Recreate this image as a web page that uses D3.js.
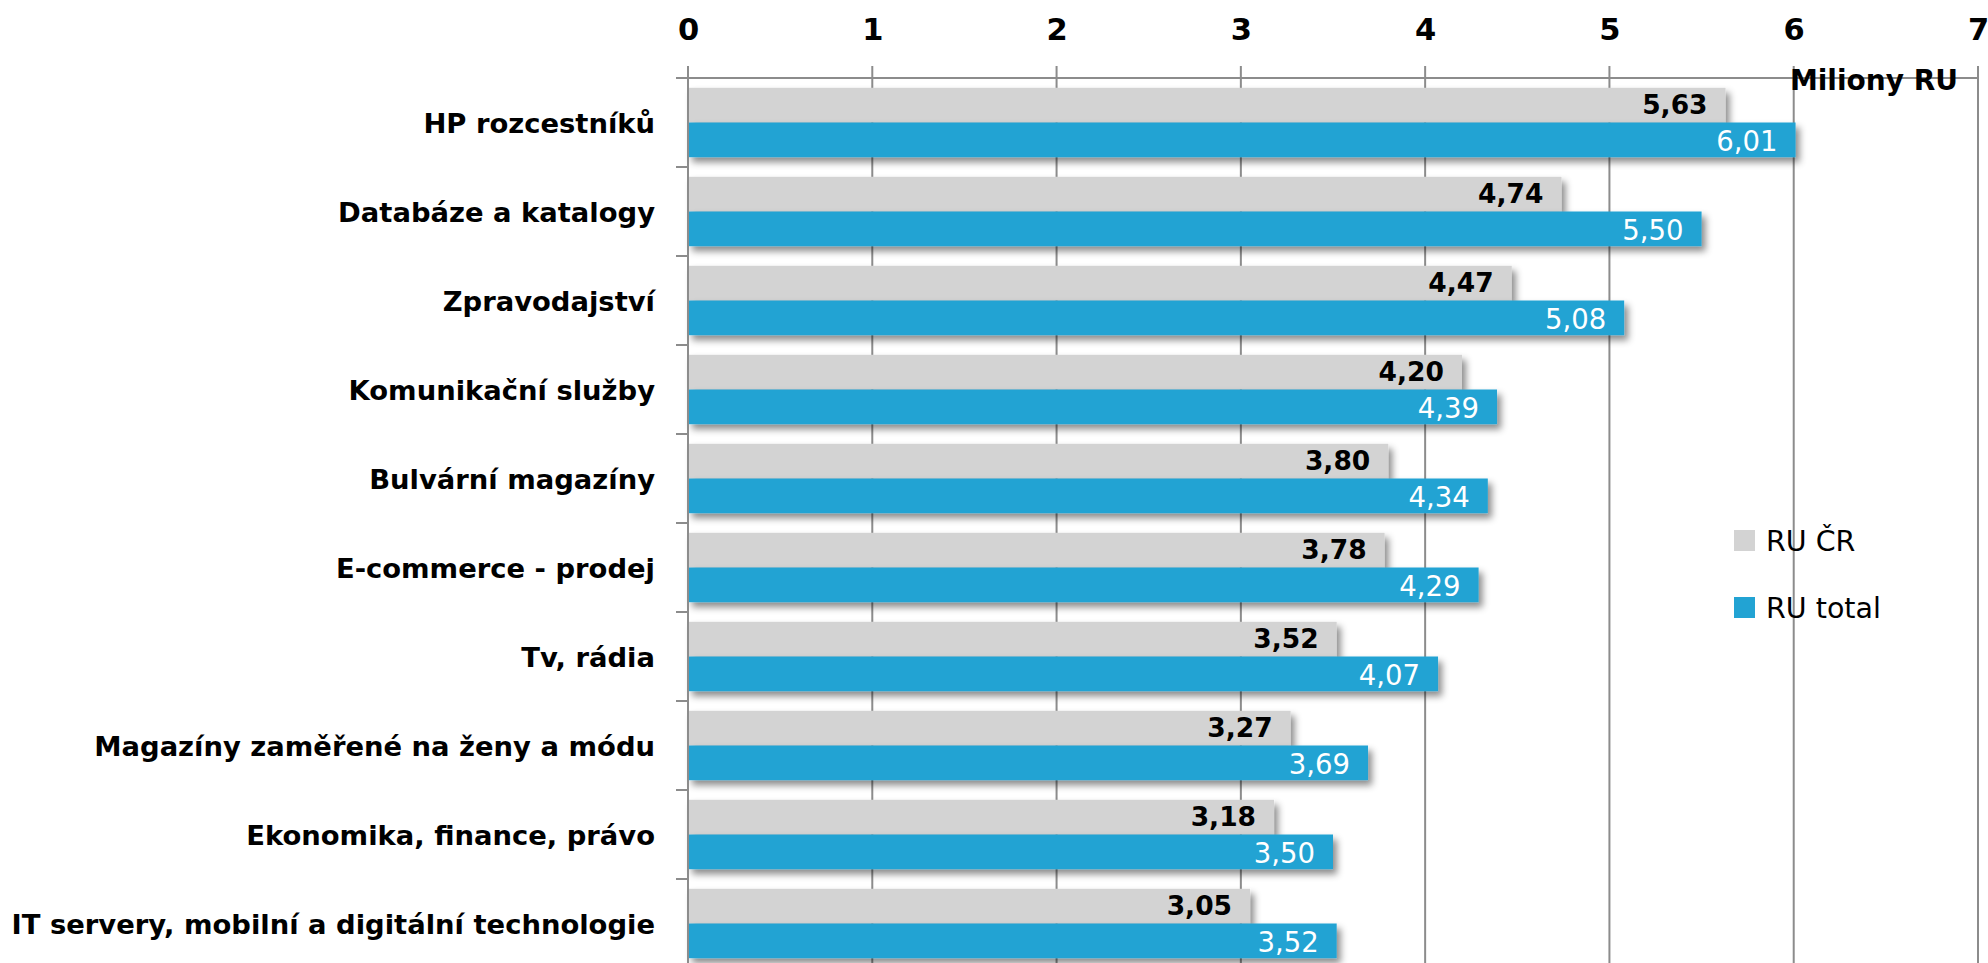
<!DOCTYPE html>
<html lang="cs">
<head>
    <meta charset="UTF-8" />
    <title>Návštěvnost kategorií - RU</title>
    <script src="https://d3js.org/d3.v7.min.js"></script>
    <style>
        body { margin: 0; background: #fff; }
        text { font-family: "DejaVu Sans", sans-serif; }
    </style>
</head>
<body>
    <script>
        var categories = [
            "HP rozcestníků", "Databáze a katalogy", "Zpravodajství", "Komunikační služby",
            "Bulvární magazíny", "E-commerce - prodej", "Tv, rádia",
            "Magazíny zaměřené na ženy a módu", "Ekonomika, finance, právo",
            "IT servery, mobilní a digitální technologie"
        ];
        var ruCR = [5.63, 4.74, 4.47, 4.20, 3.80, 3.78, 3.52, 3.27, 3.18, 3.05];
        var ruTotal = [6.01, 5.50, 5.08, 4.39, 4.34, 4.29, 4.07, 3.69, 3.50, 3.52];
        var seriesNames = ["RU ČR", "RU total"];
        var seriesColors = ["#d3d3d3", "#22a3d3"];
        var xTicks = [0, 1, 2, 3, 4, 5, 6, 7];

        var w = 1988;
        var h = 963;
        var plotLeft = 688;
        var plotRight = 1978;
        var plotTop = 78;
        var step = 89;
        var plotBottom = plotTop + step * categories.length;

        var czLocale = d3.formatLocale({ decimal: ",", thousands: " ", grouping: [3], currency: ["", " Kč"] });
        var fmt = czLocale.format(".2f");

        var rows = categories.map(function (c, i) {
            return { cat: c, values: [ruCR[i], ruTotal[i]] };
        });

        var xScale = d3.scaleLinear()
            .domain([0, 7])
            .range([plotLeft, plotRight]);

        var yScale = d3.scaleBand()
            .domain(categories)
            .range([plotTop, plotBottom])
            .paddingInner(0.22)
            .paddingOuter(0.11);

        var ySub = d3.scaleBand()
            .domain([0, 1])
            .range([0, yScale.bandwidth()]);

        var svg = d3.select("body")
            .append("svg")
            .attr("width", w)
            .attr("height", h);

        var defs = svg.append("defs");
        var shadow = defs.append("filter")
            .attr("id", "shadow")
            .attr("x", "-5%").attr("y", "-30%")
            .attr("width", "115%").attr("height", "190%");
        shadow.append("feDropShadow")
            .attr("dx", 4).attr("dy", 5)
            .attr("stdDeviation", 3.5)
            .attr("flood-color", "#000")
            .attr("flood-opacity", 0.45);

        // vertical grid lines
        svg.selectAll("line.grid")
            .data(xTicks)
            .enter()
            .append("line")
            .attr("class", "grid")
            .attr("x1", function (d) { return xScale(d); })
            .attr("x2", function (d) { return xScale(d); })
            .attr("y1", plotTop - 12)
            .attr("y2", plotBottom)
            .attr("stroke", "#8c8c8c")
            .attr("stroke-width", 2);

        // top axis with labels
        var xAxis = d3.axisTop(xScale)
            .tickValues(xTicks)
            .tickSize(0)
            .tickPadding(38)
            .tickFormat(d3.format("d"));

        var gx = svg.append("g")
            .attr("transform", "translate(0," + plotTop + ")")
            .call(xAxis);
        gx.select(".domain").remove();
        gx.selectAll("text")
            .attr("font-family", "DejaVu Sans, sans-serif")
            .attr("font-size", "30.5px")
            .attr("font-weight", "bold")
            .attr("fill", "#000");

        svg.append("line")
            .attr("x1", plotLeft - 12).attr("x2", plotRight)
            .attr("y1", plotTop).attr("y2", plotTop)
            .attr("stroke", "#8c8c8c").attr("stroke-width", 2);

        // left category boundary ticks
        var bounds = d3.range(categories.length + 1).map(function (i) {
            return plotTop + i * yScale.step();
        });
        svg.selectAll("line.ytick")
            .data(bounds)
            .enter()
            .append("line")
            .attr("class", "ytick")
            .attr("x1", plotLeft - 12).attr("x2", plotLeft)
            .attr("y1", function (d) { return d; })
            .attr("y2", function (d) { return d; })
            .attr("stroke", "#8c8c8c").attr("stroke-width", 2);

        // bars
        var groups = svg.selectAll("g.row")
            .data(rows)
            .enter()
            .append("g")
            .attr("class", "row")
            .attr("transform", function (d) { return "translate(0," + yScale(d.cat) + ")"; });

        groups.selectAll("rect")
            .data(function (d) { return d.values; })
            .enter()
            .append("rect")
            .attr("x", xScale(0))
            .attr("y", function (d, i) { return ySub(i); })
            .attr("width", function (d) { return xScale(d) - xScale(0); })
            .attr("height", ySub.bandwidth())
            .attr("fill", function (d, i) { return seriesColors[i]; })
            .attr("filter", "url(#shadow)");

        groups.selectAll("text.val")
            .data(function (d) { return d.values; })
            .enter()
            .append("text")
            .attr("class", "val")
            .attr("x", function (d) { return xScale(d) - 18; })
            .attr("y", function (d, i) { return ySub(i) + ySub.bandwidth() / 2 + (i === 0 ? 9 : 11); })
            .attr("text-anchor", "end")
            .attr("font-size", function (d, i) { return i === 0 ? "26.5px" : "27.5px"; })
            .attr("font-weight", function (d, i) { return i === 0 ? "bold" : "normal"; })
            .attr("fill", function (d, i) { return i === 0 ? "#000" : "#fff"; })
            .text(function (d) { return fmt(d); });

        // y axis line
        svg.append("line")
            .attr("x1", plotLeft).attr("x2", plotLeft)
            .attr("y1", plotTop - 12).attr("y2", plotBottom)
            .attr("stroke", "#8c8c8c").attr("stroke-width", 2);

        // category labels
        svg.selectAll("text.cat")
            .data(categories)
            .enter()
            .append("text")
            .attr("class", "cat")
            .attr("x", 655)
            .attr("y", function (d) { return yScale(d) + yScale.bandwidth() / 2 + 10; })
            .attr("text-anchor", "end")
            .attr("font-size", "27.4px")
            .attr("font-weight", "bold")
            .attr("fill", "#000")
            .text(function (d) { return d; });

        // unit label
        svg.append("text")
            .attr("x", 1958)
            .attr("y", 90)
            .attr("text-anchor", "end")
            .attr("font-size", "28px")
            .attr("font-weight", "bold")
            .text("Miliony RU");

        // legend
        var legend = svg.selectAll("g.legend")
            .data(seriesNames)
            .enter()
            .append("g")
            .attr("class", "legend")
            .attr("transform", function (d, i) { return "translate(1734," + (530 + i * 67) + ")"; });
        legend.append("rect")
            .attr("width", 21).attr("height", 21)
            .attr("fill", function (d, i) { return seriesColors[i]; });
        legend.append("text")
            .attr("x", 32).attr("y", 21)
            .attr("font-size", "28.5px")
            .attr("fill", "#000")
            .text(function (d) { return d; });
    </script>
</body>
</html>
